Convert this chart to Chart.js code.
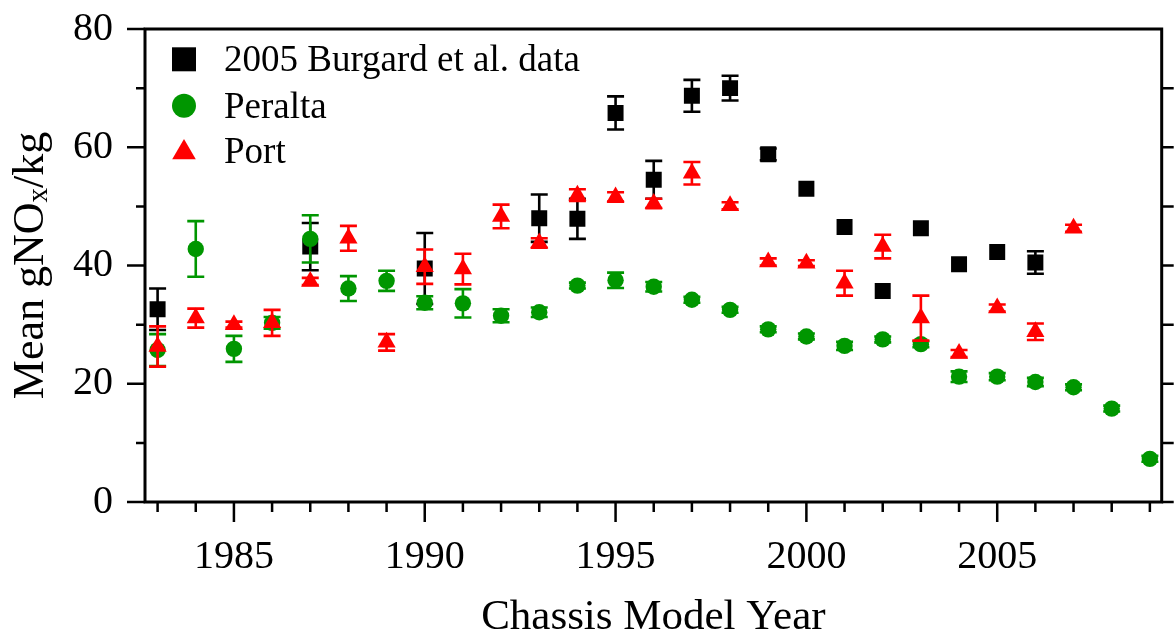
<!DOCTYPE html>
<html><head><meta charset="utf-8">
<script src="https://cdn.jsdelivr.net/npm/chart.js@4.4.1/dist/chart.umd.min.js"></script>
<style>html,body{margin:0;padding:0;background:#fff;}#wrap{width:1175px;height:641px;}</style>
</head><body><div id="wrap"><canvas id="c" width="1175" height="641" style="width:1175px;height:641px"></canvas></div>
<script>
// ---- data ----
const xTickLabels = [1985, 1990, 1995, 2000, 2005];
const yTickLabels = [0, 20, 40, 60, 80];

const burgardYears = [1983, 1987, 1990, 1993, 1994, 1995, 1996, 1997, 1998, 1999, 2000, 2001, 2002, 2003, 2004, 2005, 2006];
const burgardMeans = [32.6, 43.2, 39.5, 48.0, 47.9, 65.8, 54.5, 68.7, 70.0, 58.8, 53.0, 46.5, 35.7, 46.3, 40.2, 42.3, 40.5];
const burgardErrs  = [3.5, 4.0, 6.0, 4.0, 3.4, 2.8, 3.2, 2.7, 2.1, 1.0, 0, 0, 0, 0, 0, 0, 1.9];

const peraltaYears = [1983, 1984, 1985, 1986, 1987, 1988, 1989, 1990, 1991, 1992, 1993, 1994, 1995, 1996, 1997, 1998, 1999, 2000, 2001, 2002, 2003, 2004, 2005, 2006, 2007, 2008, 2009];
const peraltaMeans = [25.7, 42.8, 25.9, 30.3, 44.5, 36.1, 37.4, 33.7, 33.6, 31.5, 32.1, 36.6, 37.5, 36.4, 34.2, 32.5, 29.2, 28.0, 26.4, 27.5, 26.7, 21.2, 21.2, 20.3, 19.4, 15.8, 7.3];
const peraltaErrs  = [2.7, 4.7, 2.2, 1.0, 4.0, 2.1, 1.7, 1.1, 2.4, 1.1, 0.8, 0.5, 1.3, 0.8, 0.5, 0.5, 0.5, 0.5, 0.7, 0.5, 0.5, 0.9, 0.6, 0.7, 0.5, 0.5, 0.5];

const portYears = [1983, 1984, 1985, 1986, 1987, 1988, 1989, 1990, 1991, 1992, 1993, 1994, 1995, 1996, 1997, 1998, 1999, 2000, 2001, 2002, 2003, 2004, 2005, 2006, 2007];
const portMeans = [26.3, 31.1, 30.0, 30.3, 37.3, 44.6, 27.0, 39.8, 39.4, 48.3, 43.8, 51.9, 51.6, 50.5, 55.6, 50.1, 40.6, 40.4, 37.0, 43.2, 31.1, 25.1, 32.8, 28.8, 46.3];
const portErrs  = [3.4, 1.6, 0.5, 2.2, 0.6, 2.1, 1.4, 2.9, 2.6, 2.0, 0.8, 1.0, 0.8, 0.8, 1.9, 0.6, 0.6, 0.5, 2.1, 2.0, 3.8, 0.6, 0.6, 1.4, 0.6];

const FONT = '"Liberation Serif","Times New Roman",serif';
const BLACK = '#000000', GREEN = '#009600', RED = '#ff0000';

const toPts = (xs, ys) => xs.map((x, i) => ({x: x, y: ys[i]}));

// error bars drawn through the library scales
const errorBars = {
  id: 'errorBars',
  beforeDatasetDraw(chart, args) {
    const ds = chart.data.datasets[args.index];
    if (!ds.errors) return;
    const xs = chart.scales.x, ys = chart.scales.y, ctx = chart.ctx;
    ctx.save();
    ctx.strokeStyle = ds.borderColor;
    ctx.lineWidth = 2.6;
    ds.data.forEach((p, i) => {
      const e = ds.errors[i];
      if (!e) return;
      const px = xs.getPixelForValue(p.x);
      const t = ys.getPixelForValue(p.y + e), b = ys.getPixelForValue(p.y - e);
      ctx.beginPath();
      ctx.moveTo(px, t); ctx.lineTo(px, b);
      ctx.moveTo(px - 8.5, t); ctx.lineTo(px + 8.5, t);
      ctx.moveTo(px - 8.5, b); ctx.lineTo(px + 8.5, b);
      ctx.stroke();
    });
    ctx.restore();
  }
};

// frame with outward tick marks
const frame = {
  id: 'frame',
  afterDatasetsDraw(chart) {
    const {ctx, chartArea: a} = chart;
    const xs = chart.scales.x, ys = chart.scales.y;
    ctx.save();
    ctx.strokeStyle = '#000';
    ctx.lineWidth = 3;
    ctx.lineCap = 'butt';
    ctx.beginPath();
    ctx.moveTo(a.left, a.top); ctx.lineTo(a.right, a.top);
    ctx.moveTo(a.left, a.top - 1.5); ctx.lineTo(a.left, a.bottom + 1.5);
    ctx.moveTo(a.right, a.top - 1.5); ctx.lineTo(a.right, a.bottom + 1.5);
    ctx.moveTo(a.left - 1.5, a.bottom); ctx.lineTo(a.right + 1.5, a.bottom);
    ctx.stroke();
    ctx.lineWidth = 2.5;
    ctx.beginPath();
    for (let yr = Math.ceil(xs.min); yr <= Math.floor(xs.max); yr++) {
      const px = xs.getPixelForValue(yr);
      const len = xTickLabels.includes(yr) ? 20 : 10;
      ctx.moveTo(px, a.bottom); ctx.lineTo(px, a.bottom + len);
    }
    for (let v = 0; v <= 80; v += 10) {
      const py = ys.getPixelForValue(v);
      const len = yTickLabels.includes(v) ? 18 : 9;
      ctx.moveTo(a.left, py); ctx.lineTo(a.left - len, py);
      if (v < 80) { ctx.moveTo(a.right, py); ctx.lineTo(a.right + 12, py); }
    }
    ctx.stroke();
    ctx.restore();
  }
};

// y axis title with subscript, and the legend inside the plot
const annotations = {
  id: 'annotations',
  afterDraw(chart) {
    const ctx = chart.ctx, a = chart.chartArea;
    ctx.save();
    const big = '44px ' + FONT, small = '29px ' + FONT;
    const p1 = 'Mean gNO', p2 = 'x', p3 = '/kg';
    ctx.font = big; const w1 = ctx.measureText(p1).width, w3 = ctx.measureText(p3).width;
    ctx.font = small; const w2 = ctx.measureText(p2).width;
    const total = w1 + w2 + w3;
    ctx.translate(43, (a.top + a.bottom) / 2);
    ctx.rotate(-Math.PI / 2);
    ctx.fillStyle = '#000';
    ctx.textBaseline = 'alphabetic';
    ctx.textAlign = 'left';
    let x0 = -total / 2;
    ctx.font = big; ctx.fillText(p1, x0, 0); x0 += w1;
    ctx.font = small; ctx.fillText(p2, x0, 4); x0 += w2;
    ctx.font = big; ctx.fillText(p3, x0, 0);
    ctx.restore();

    ctx.save();
    const rows = [59.3, 105.8, 151.5];
    const mx = 184;
    chart.data.datasets.forEach((ds, i) => {
      const cy = rows[i];
      ctx.fillStyle = ds.backgroundColor;
      ctx.beginPath();
      if (ds.pointStyle === 'rect') {
        ctx.rect(mx - 12, cy - 12, 24, 24);
      } else if (ds.pointStyle === 'circle') {
        ctx.arc(mx, cy, 12, 0, Math.PI * 2);
      } else {
        ctx.moveTo(mx, cy - 12.5); ctx.lineTo(mx + 11.8, cy + 7.8); ctx.lineTo(mx - 11.8, cy + 7.8); ctx.closePath();
      }
      ctx.fill();
      ctx.fillStyle = '#000';
      ctx.font = '37px ' + FONT;
      ctx.textBaseline = 'alphabetic';
      ctx.fillText(ds.label, 224, cy + 11.8);
    });
    ctx.restore();
  }
};

new Chart(document.getElementById('c'), {
  type: 'scatter',
  data: {
    datasets: [
      {label: '2005 Burgard et al. data', data: toPts(burgardYears, burgardMeans), errors: burgardErrs,
       pointStyle: 'rect', pointRadius: 11.3, backgroundColor: BLACK, borderColor: BLACK, borderWidth: 0, order: 3},
      {label: 'Peralta', data: toPts(peraltaYears, peraltaMeans), errors: peraltaErrs,
       pointStyle: 'circle', pointRadius: 8.2, backgroundColor: GREEN, borderColor: GREEN, borderWidth: 0, order: 2},
      {label: 'Port', data: toPts(portYears, portMeans), errors: portErrs,
       pointStyle: 'triangle', pointRadius: 10.5, backgroundColor: RED, borderColor: RED, borderWidth: 0, order: 1}
    ]
  },
  options: {
    responsive: false,
    animation: false,
    devicePixelRatio: 1,
    layout: {padding: {top: 29, right: 13.3, left: 0, bottom: 0}},
    plugins: {legend: {display: false}, tooltip: {enabled: false}},
    scales: {
      x: {
        type: 'linear', min: 1982.67, max: 2009.31,
        afterBuildTicks: s => { s.ticks = xTickLabels.map(v => ({value: v})); },
        afterFit: s => { s.height = 139; s.paddingLeft = 0; s.paddingRight = 0; },
        grid: {display: false}, border: {display: false},
        ticks: {font: {family: FONT, size: 40}, color: '#000', padding: 23, maxRotation: 0, autoSkip: false,
                callback: v => String(v)},
        title: {display: true, text: 'Chassis Model Year', color: '#000',
                font: {family: FONT, size: 43, lineHeight: 1.1}, padding: {top: 0, bottom: 0}}
      },
      y: {
        type: 'linear', min: 0, max: 80,
        afterBuildTicks: s => { s.ticks = yTickLabels.map(v => ({value: v})); },
        afterFit: s => { s.width = 145; s.paddingTop = 0; s.paddingBottom = 0; },
        grid: {display: false}, border: {display: false},
        ticks: {font: {family: FONT, size: 40}, color: '#000', padding: 24, callback: v => String(v)}
      }
    }
  },
  plugins: [errorBars, frame, annotations]
});
</script>
</body></html>
